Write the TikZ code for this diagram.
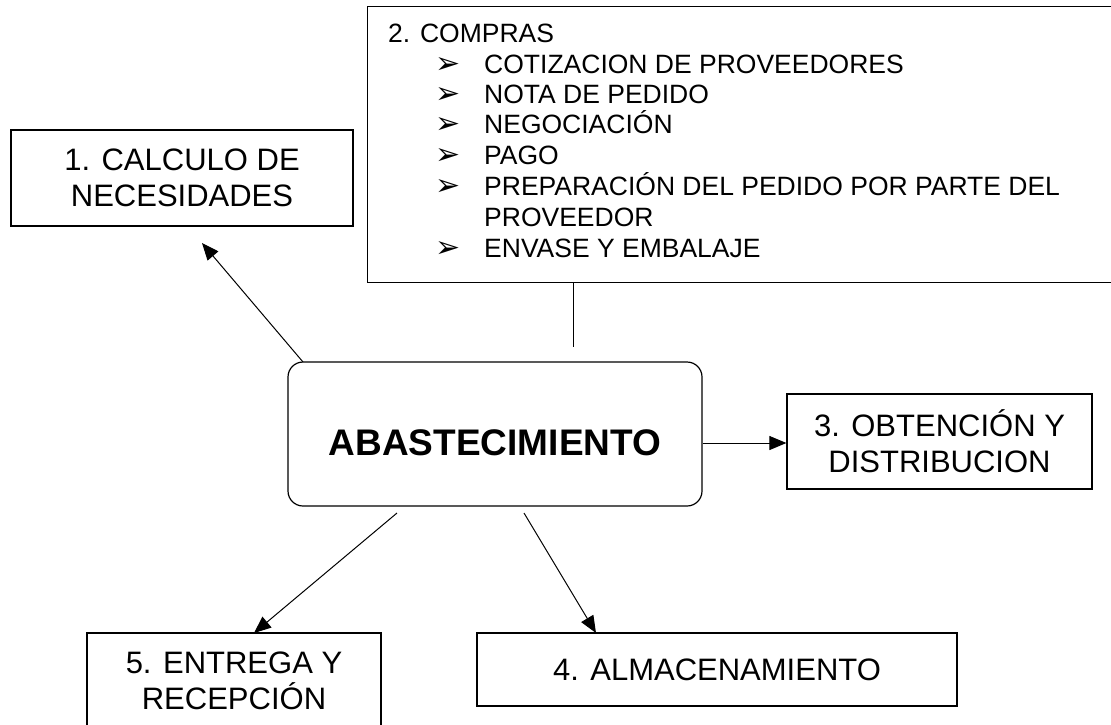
\documentclass[tikz,border=0pt]{standalone}
\usepackage{fontspec}
\setmainfont{Liberation Sans}
\newfontfamily\bulfont{DejaVu Sans}
\usetikzlibrary{arrows.meta}
\newcommand{\bul}{{\bulfont\fontsize{30}{30}\selectfont ➢}}
\newcommand{\itm}[1]{\makebox[96pt][l]{\hspace*{47pt}\bul}#1}
\begin{document}
\begin{tikzpicture}[x=1pt,y=-1pt,
  box/.style={draw, line width=1.2pt, rectangle, inner sep=0pt, align=center,
    font=\fontsize{31}{36}\selectfont},
  listline/.style={anchor=base west, inner sep=0pt, font=\fontsize{26.5}{30.7}\selectfont},
  arr/.style={line width=1pt, -{Triangle[length=17pt,width=14pt]}},
  plain/.style={line width=1pt}]
\useasboundingbox (0,0) rectangle (1111,724);
\clip (0,0) rectangle (1111,724);

% top box (2. COMPRAS)
\node[box, anchor=north west, minimum width=760pt, minimum height=276pt] (compras) at (367,6) {};
\node[listline] (t0) at (388,42) {2. COMPRAS};
\node[listline] (t1) at (388,73) {\itm{COTIZACION DE PROVEEDORES}};
\node[listline] (t2) at (388,103) {\itm{NOTA DE PEDIDO}};
\node[listline] (t3) at (388,133) {\itm{NEGOCIACIÓN}};
\node[listline] (t4) at (388,164) {\itm{PAGO}};
\node[listline] (t5) at (388,195) {\itm{PREPARACIÓN DEL PEDIDO POR PARTE DEL}};
\node[listline] (t6) at (388,226) {\hspace*{96pt}PROVEEDOR};
\node[listline] (t7) at (388,257) {\itm{ENVASE Y EMBALAJE}};

% other boxes
\node[box, minimum width=342pt, minimum height=96pt] (calc) at (182,178) {1. CALCULO DE\\NECESIDADES};
\node[box, minimum width=305pt, minimum height=95pt] (obt) at (939.5,441.5) {3. OBTENCIÓN Y\\DISTRIBUCION};
\node[box, minimum width=480pt, minimum height=73pt] (alm) at (717,669.5) {4. ALMACENAMIENTO};
\node[box, minimum width=294pt, minimum height=96pt] (ent) at (234,681) {5. ENTREGA Y\\RECEPCIÓN};

% central rounded box
\node[draw, line width=1.2pt, rounded corners=15pt, inner sep=0pt,
  minimum width=414pt, minimum height=144pt, text height=42pt, text depth=0pt,
  font=\bfseries\fontsize{37}{40}\selectfont] (abas) at (495,434) {ABASTECIMIENTO};

% connector endpoints
\coordinate (c1s) at (303,362);
\coordinate (c1e) at (202,243);
\coordinate (c2s) at (573,282);
\coordinate (c2e) at (573,347);
\coordinate (c3s) at (703,443);
\coordinate (c4s) at (524,513);
\coordinate (c5s) at (397,513);

\draw[arr] (c1s) -- (c1e);
\draw[plain] (c2s) -- (c2e);
\draw[arr] (c3s) -- (obt.west |- c3s);
\draw[arr] (c4s) -- (596,633);
\draw[arr] (c5s) -- (254,633);
\end{tikzpicture}
\end{document}
